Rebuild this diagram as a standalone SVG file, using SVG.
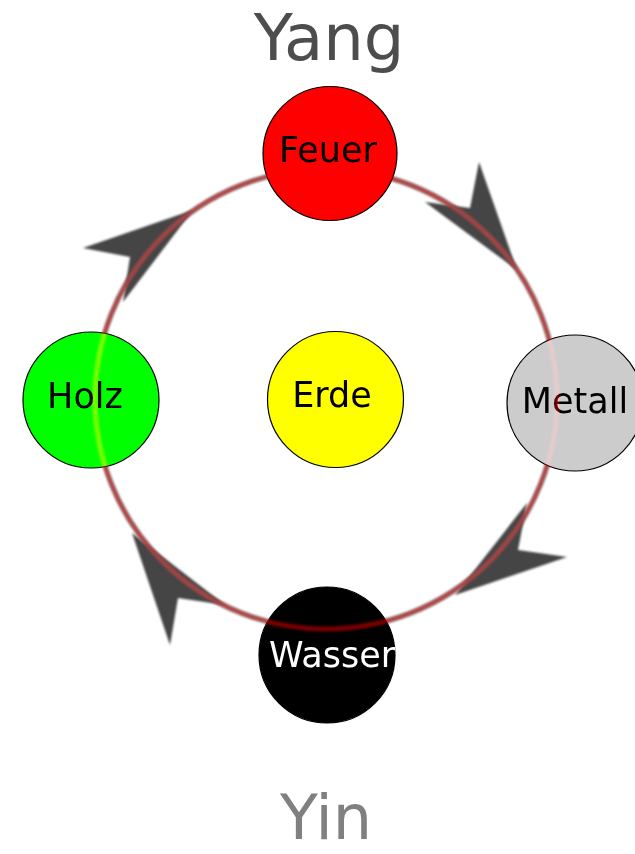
<svg xmlns="http://www.w3.org/2000/svg" width="635" height="854" viewBox="0 0 635 854">
<style>
.lbl{font-family:"DejaVu Sans","Liberation Sans",sans-serif;font-size:35px;text-anchor:middle}
.big{font-family:"DejaVu Sans","Liberation Sans",sans-serif;text-anchor:middle}
.node{stroke:#000;stroke-width:1.2}
.ring{fill:none;stroke-width:5}
.arrow{fill:#454545;filter:url(#blur)}
</style>
<defs>
<filter id="blur" x="-20%" y="-20%" width="140%" height="140%"><feGaussianBlur stdDeviation="1"/></filter>
<filter id="rblur" x="-10%" y="-10%" width="120%" height="120%"><feGaussianBlur stdDeviation="1"/></filter>
</defs>
<rect width="635" height="854" fill="#fff"/>
<text class="big" x="329" y="60" font-size="64" fill="#4d4d4d">Yang</text>
<text class="big" x="326" y="839" font-size="62" fill="#808080">Yin</text>
<g id="connectors">
<ellipse class="ring" cx="326" cy="399" rx="231" ry="230" stroke="#6a4848" filter="url(#rblur)"/>
<polygon class="arrow" points="193,210 83,248 130,257 123,302"/>
<polygon class="arrow" points="517,270 479,162 470,208 425,202"/>
<polygon class="arrow" points="455,595 527,503 518,550 567,557"/>
<polygon class="arrow" points="132,533 225,605 178,598 170,645"/>
</g>
<g id="feuer"><circle class="node" cx="330" cy="153.5" r="67" fill="#ff0000"/><text class="lbl" x="328" y="162" fill="#000">Feuer</text></g>
<g id="holz"><circle class="node" cx="91" cy="400" r="68" fill="#00ff00"/><text class="lbl" x="85" y="408" fill="#000">Holz</text></g>
<g id="erde"><circle class="node" cx="335.5" cy="399.5" r="68" fill="#ffff00"/><text class="lbl" x="332" y="407" fill="#000">Erde</text></g>
<g id="metall"><circle class="node" cx="575" cy="403" r="68" fill="#cccccc" stroke="#333"/><text class="lbl" x="575" y="413" fill="#000">Metall</text></g>
<g id="wasser"><circle class="node" cx="327" cy="655" r="68" fill="#000000"/><text class="lbl" x="332" y="667" fill="#fff">Wasser</text></g>
<ellipse class="ring" cx="326" cy="399" rx="231" ry="230" stroke="#780000" filter="url(#rblur)" style="mix-blend-mode:screen"/>
</svg>
